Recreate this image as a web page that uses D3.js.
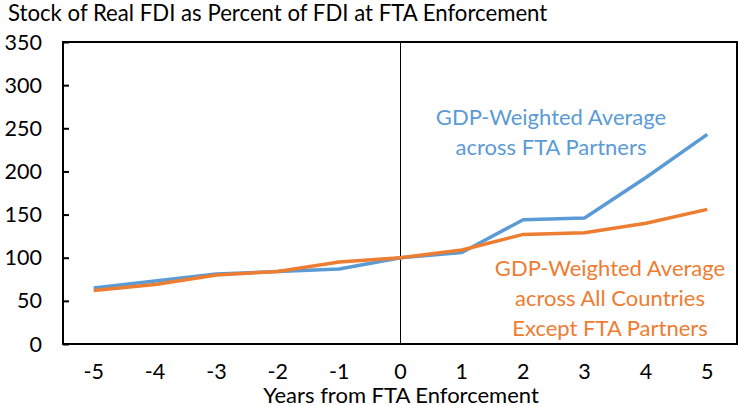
<!DOCTYPE html>
<html><head><meta charset="utf-8">
<script src="https://cdn.jsdelivr.net/npm/d3@7"></script>
<style>body{margin:0;background:#fff}svg{display:block;font-family:Lato,"Noto Sans",sans-serif}</style>
</head><body><svg id="c" width="739" height="406"></svg>
<script>
const years = [-5,-4,-3,-2,-1,0,1,2,3,4,5];
const ftaPartners = [65,73,81,84,87,100,106,144,146,193,243];
const allExceptFta = [62,69,80,84,95,100,109,127,129,140,156];
const yTicks = [0,50,100,150,200,250,300,350];
const title = "Stock of Real FDI as Percent of FDI at FTA Enforcement";
const xTitle = "Years from FTA Enforcement";
const blueLabel = ["GDP-Weighted Average","across FTA Partners"];
const orangeLabel = ["GDP-Weighted Average","across All Countries","Except FTA Partners"];

const svg = d3.select("#c");
const L=63,R=738,T=42,B=344;
const x = d3.scalePoint().domain(years).range([L,R]).padding(0.5);
const y = d3.scaleLinear().domain([0,350]).range([B,T]);
const blue="#5B9BD5", orange="#ED7D31";

svg.append("text").attr("x",8).attr("y",21).attr("font-size",22.2).attr("fill","#000").text(title);

const ya = svg.append("g").attr("transform",`translate(${L},0)`)
  .call(d3.axisRight(y).tickValues(yTicks).tickSize(6).tickFormat(""));
ya.select(".domain").remove();
ya.selectAll("line").attr("stroke","#000").attr("stroke-width",2);
svg.append("g").selectAll("text").data(yTicks).join("text")
  .attr("x",42).attr("y",d=>y(d)).attr("dy","0.35em").attr("text-anchor","end")
  .attr("font-size",21.5).text(d=>d);

svg.append("g").selectAll("text").data(years).join("text")
  .attr("x",d=>x(d)).attr("y",371).attr("dy","0.35em").attr("text-anchor","middle")
  .attr("font-size",21.5).text(d=>d);
svg.append("text").attr("x",401).attr("y",395).attr("dy","0.35em").attr("text-anchor","middle")
  .attr("font-size",22).text(xTitle);

svg.append("line").attr("x1",x(0)).attr("x2",x(0)).attr("y1",T).attr("y2",B)
  .attr("stroke","#000").attr("stroke-width",1);

const line = d3.line().x((d,i)=>x(years[i])).y(d=>y(d));
svg.append("path").datum(ftaPartners).attr("d",line).attr("fill","none")
  .attr("stroke",blue).attr("stroke-width",3.5).attr("stroke-linejoin","round");
svg.append("path").datum(allExceptFta).attr("d",line).attr("fill","none")
  .attr("stroke",orange).attr("stroke-width",3.5).attr("stroke-linejoin","round");

svg.append("rect").attr("x",L).attr("y",T).attr("width",R-L-1).attr("height",B-T)
  .attr("fill","none").attr("stroke","#000").attr("stroke-width",2);

svg.append("g").selectAll("text").data(blueLabel).join("text")
  .attr("x",551).attr("y",(d,i)=>117+i*30).attr("dy","0.35em").attr("text-anchor","middle")
  .attr("font-size",22).attr("fill",blue).text(d=>d);
svg.append("g").selectAll("text").data(orangeLabel).join("text")
  .attr("x",610).attr("y",(d,i)=>268+i*30).attr("dy","0.35em").attr("text-anchor","middle")
  .attr("font-size",22).attr("fill",orange).text(d=>d);
</script></body></html>
